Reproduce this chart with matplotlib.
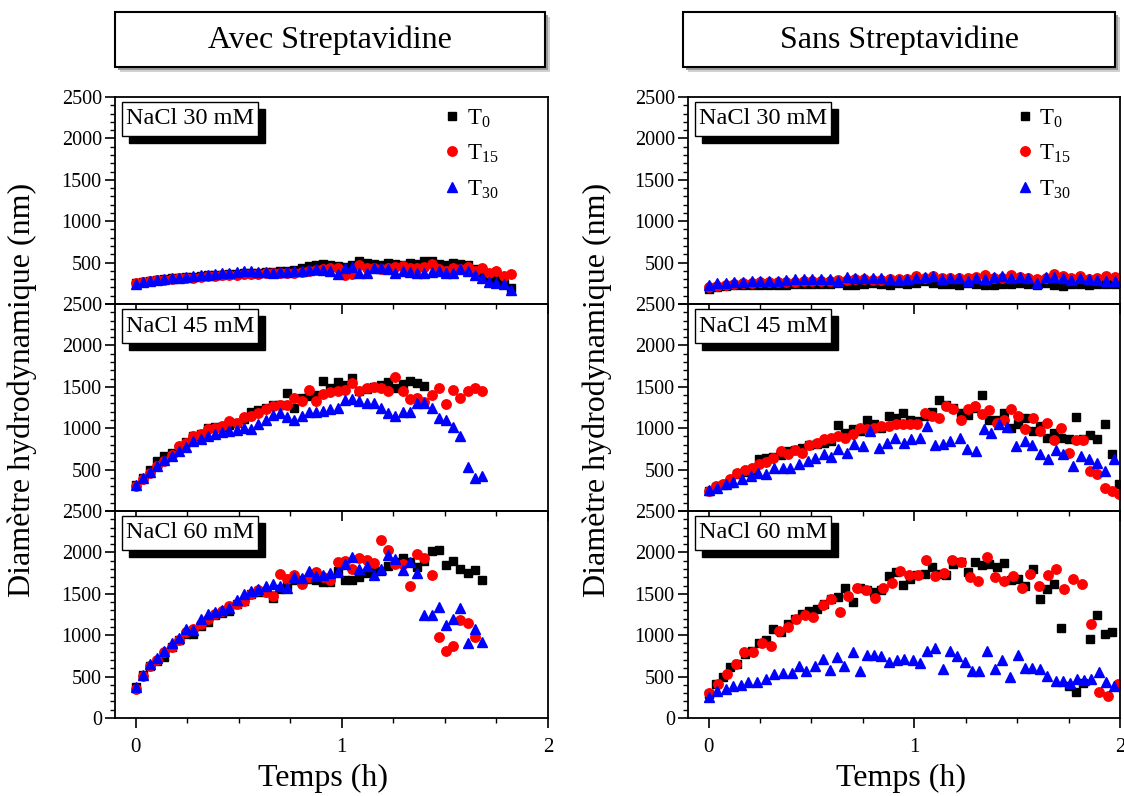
import matplotlib
matplotlib.use("Agg")
import matplotlib.pyplot as plt
from matplotlib.patches import Rectangle
from matplotlib.ticker import MultipleLocator

plt.rcParams['font.family'] = 'Liberation Serif'
plt.rcParams['mathtext.fontset'] = 'custom'
plt.rcParams['mathtext.rm'] = 'Liberation Serif'

# ---- data ----
# sampling times (h)
t_a = [0, 0.035, 0.07, 0.105, 0.14, 0.175, 0.21, 0.245, 0.28, 0.315, 0.35, 0.385, 0.42, 0.455,
       0.49, 0.525, 0.56, 0.595, 0.63, 0.665, 0.7, 0.735, 0.77, 0.805, 0.84, 0.875, 0.91, 0.945,
       0.98, 1.015, 1.05, 1.085, 1.12, 1.155, 1.19, 1.225, 1.26, 1.295, 1.33, 1.365, 1.4, 1.435,
       1.47, 1.505, 1.54, 1.575, 1.61, 1.645, 1.68, 1.715, 1.75, 1.785, 1.82, 1.855, 1.89, 1.925,
       1.96, 1.995]
t_b = [0, 0.042, 0.084, 0.126, 0.168, 0.21, 0.252, 0.294, 0.336, 0.378, 0.42, 0.462, 0.504, 0.546,
       0.588, 0.63, 0.672, 0.714, 0.756, 0.798, 0.84, 0.882, 0.924, 0.966, 1.008, 1.05, 1.092,
       1.134, 1.176, 1.218, 1.26, 1.302, 1.344, 1.386, 1.428, 1.47, 1.512, 1.554, 1.596, 1.638,
       1.68, 1.722, 1.764, 1.806, 1.848, 1.89, 1.932, 1.974]

# Avec streptavidine
avec30_t0 = [255, 270, 280, 290, 300, 310, 320, 325, 330, 340, 345, 350, 355, 360, 365, 370, 375,
             380, 385, 390, 395, 400, 410, 430, 460, 470, 480, 470, 460, 450, 470, 520, 500, 480,
             470, 490, 480, 470, 490, 480, 520, 520, 480, 470, 500, 480, 470, 420, 390, 330, 290,
             240, 190]
avec30_t15 = [250, 265, 275, 285, 295, 300, 310, 315, 320, 330, 335, 340, 345, 350, 355, 360, 365,
              365, 370, 370, 380, 375, 380, 390, 400, 410, 420, 430, 440, 350, 360, 470, 440, 430,
              420, 440, 450, 460, 440, 430, 450, 480, 420, 400, 430, 420, 450, 400, 430, 380, 400,
              340, 360]
avec30_t30 = [240, 260, 275, 290, 300, 310, 320, 330, 340, 345, 350, 360, 370, 380, 385, 395, 400,
              390, 385, 380, 385, 390, 395, 400, 410, 420, 415, 400, 360, 440, 450, 380, 370, 440,
              430, 420, 380, 400, 390, 380, 380, 390, 400, 380, 380, 420, 400, 350, 320, 260, 250,
              240, 170]

avec45_t0 = [320, 400, 490, 600, 660, 700, 760, 830, 900, 930, 1000, 1010, 1020, 1040, 1060, 1110,
             1190, 1220, 1250, 1280, 1280, 1420, 1240, 1360, 1390, 1400, 1570, 1490, 1560, 1520,
             1610, 1450, 1470, 1500, 1520, 1560, 1480, 1530, 1570, 1550, 1510]
avec45_t15 = [301, 382, 460, 540, 603, 680, 780, 820, 904, 925, 985, 1000, 1030, 1085, 1060, 1134,
              1146, 1186, 1230, 1266, 1280, 1286, 1359, 1327, 1467, 1327, 1415, 1439, 1447, 1467,
              1548, 1447, 1487, 1495, 1480, 1447, 1616, 1447, 1347, 1360, 1318, 1399, 1487, 1298,
              1459, 1367, 1455, 1487, 1455]
avec45_t30 = [314, 400, 470, 540, 620, 670, 730, 770, 840, 870, 900, 930, 960, 970, 980, 1000, 990,
              1050, 1100, 1160, 1180, 1130, 1100, 1150, 1200, 1200, 1210, 1230, 1250, 1340, 1350,
              1330, 1310, 1300, 1250, 1180, 1150, 1200, 1190, 1300, 1300, 1240, 1120, 1100, 1020,
              900, 530, 400, 420]

avec60_t0 = [371, 524, 633, 694, 742, 855, 943, 1016, 1016, 1117, 1157, 1238, 1270, 1290, 1380, 1419,
             1500, 1520, 1520, 1452, 1560, 1589, 1661, 1670, 1681, 1670, 1641, 1641, 1780, 1670,
             1670, 1700, 1750, 1780, 1780, 1840, 1880, 1935, 1880, 1820, 1900, 2016, 2024, 1843,
             1895, 1800, 1750, 1782, 1661]
avec60_t15 = [351, 512, 633, 702, 794, 863, 943, 1036, 1077, 1137, 1197, 1258, 1298, 1347, 1379,
              1419, 1500, 1548, 1520, 1468, 1734, 1681, 1722, 1621, 1702, 1762, 1702, 1661, 1883,
              1895, 1802, 1935, 1911, 1871, 2153, 2032, 1863, 1860, 1589, 1984, 1935, 1722, 984,
              814, 875, 1185, 1145, 976]
avec60_t30 = [370, 520, 650, 730, 810, 910, 970, 1080, 1060, 1200, 1260, 1280, 1300, 1330, 1420,
              1500, 1530, 1560, 1590, 1620, 1600, 1570, 1700, 1690, 1780, 1720, 1730, 1750, 1760,
              1860, 1940, 1800, 1830, 1730, 1800, 1970, 1920, 1790, 1880, 1750, 1250, 1250, 1340,
              1120, 1200, 1330, 900, 1080, 920]

# Sans streptavidine
sans30_t0 = [186, 202, 214, 226, 226, 226, 235, 235, 226, 235, 243, 243, 243, 243, 243, 255, 226,
             226, 243, 255, 243, 235, 255, 243, 255, 275, 255, 243, 243, 235, 255, 243, 235, 226,
             243, 243, 255, 243, 226, 255, 235, 214, 243, 243, 235, 243, 243, 243]
sans30_t15 = [200, 214, 235, 245, 250, 255, 260, 265, 265, 270, 270, 275, 275, 280, 280, 285, 295,
              300, 300, 295, 295, 300, 300, 305, 336, 320, 336, 310, 320, 310, 315, 330, 348, 320,
              310, 356, 330, 320, 300, 310, 364, 340, 320, 336, 300, 320, 336, 330]
sans30_t30 = [235, 255, 255, 263, 265, 275, 275, 283, 283, 295, 307, 307, 303, 303, 307, 275, 324,
              315, 315, 315, 315, 307, 295, 307, 315, 324, 336, 307, 315, 315, 283, 315, 307, 324,
              336, 315, 324, 315, 255, 324, 324, 315, 295, 315, 307, 295, 275, 275]

sans45_t0 = [241, 290, 320, 340, 442, 470, 500, 623, 640, 650, 680, 723, 740, 764, 796, 810, 824,
             844, 1033, 945, 985, 965, 1105, 1050, 1000, 1146, 1125, 1186, 1100, 1085, 1146, 1200,
             1335, 1280, 1246, 1186, 1158, 1250, 1407, 1105, 1105, 1186, 1005, 1050, 1125, 965,
             1025, 884, 945, 884, 864, 1134, 864, 916, 864, 1053, 683, 330]
sans45_t15 = [241, 301, 330, 382, 462, 490, 522, 563, 590, 643, 723, 683, 732, 704, 796, 824, 864,
              884, 905, 884, 933, 1005, 985, 997, 1025, 1025, 1045, 1045, 1045, 1050, 1186, 1146,
              1125, 1266, 1226, 1105, 1234, 1274, 1174, 1214, 1065, 1105, 1226, 1146, 985, 1125,
              965, 1065, 852, 1005, 704, 852, 852, 482, 442, 281, 241, 201]
sans45_t30_time = [0, 0.043, 0.087, 0.121, 0.164, 0.204, 0.239, 0.28, 0.32, 0.363, 0.398, 0.441,
                   0.484, 0.519, 0.562, 0.597, 0.631, 0.671, 0.709, 0.753, 0.787, 0.827, 0.865,
                   0.908, 0.948, 0.986, 1.029, 1.064, 1.099, 1.142, 1.176, 1.22, 1.254, 1.298,
                   1.341, 1.375, 1.41, 1.453, 1.496, 1.54, 1.574, 1.609, 1.652, 1.687, 1.721,
                   1.773, 1.808, 1.851, 1.886, 1.929, 1.972]
sans45_t30 = [249, 281, 322, 354, 382, 422, 462, 442, 522, 522, 522, 563, 603, 643, 683, 655, 744,
              704, 804, 784, 965, 764, 824, 884, 824, 864, 884, 1025, 796, 804, 844, 884, 744, 723,
              985, 945, 1045, 1013, 784, 844, 796, 683, 623, 732, 683, 543, 663, 623, 583, 482, 623]

sans60_t0 = [290, 411, 492, 613, 653, 774, 815, 903, 943, 1077, 1036, 1137, 1197, 1258, 1298, 1318,
             1379, 1439, 1460, 1573, 1399, 1573, 1540, 1520, 1548, 1710, 1762, 1601, 1681, 1722,
             1742, 1822, 1742, 1722, 1863, 1883, 1762, 1883, 1843, 1863, 1822, 1871, 1661, 1681,
             1589, 1802, 1439, 1560, 1621, 1089, 391, 310, 419, 956, 1238, 1016, 1036]
sans60_t15_time = [0, 0.047, 0.09, 0.133, 0.173, 0.216, 0.26, 0.303, 0.341, 0.384, 0.424, 0.467,
                   0.51, 0.554, 0.597, 0.637, 0.678, 0.723, 0.765, 0.808, 0.848, 0.891, 0.931,
                   0.972, 1.017, 1.059, 1.099, 1.145, 1.185, 1.228, 1.272, 1.311, 1.353, 1.393,
                   1.436, 1.479, 1.522, 1.562, 1.606, 1.649, 1.69, 1.73, 1.773, 1.817, 1.86, 1.9,
                   1.941, 1.99]
sans60_t15 = [298, 411, 532, 653, 794, 794, 903, 875, 1056, 1105, 1197, 1238, 1218, 1359, 1439,
              1278, 1468, 1573, 1540, 1448, 1573, 1629, 1770, 1722, 1722, 1903, 1710, 1750, 1911,
              1883, 1702, 1649, 1943, 1702, 1649, 1710, 1573, 1742, 1589, 1722, 1802, 1560, 1673,
              1613, 1137, 310, 270, 411]
sans60_t30_time = [0, 0.043, 0.083, 0.121, 0.156, 0.19, 0.234, 0.277, 0.32, 0.363, 0.407, 0.441,
                   0.476, 0.519, 0.554, 0.588, 0.623, 0.657, 0.701, 0.735, 0.77, 0.804, 0.839,
                   0.879, 0.917, 0.952, 0.995, 1.029, 1.064, 1.099, 1.138, 1.173, 1.208, 1.246,
                   1.28, 1.315, 1.353, 1.393, 1.427, 1.467, 1.502, 1.536, 1.574, 1.609, 1.644,
                   1.687, 1.721, 1.756, 1.79, 1.825, 1.86, 1.9, 1.934, 1.972]
sans60_t30 = [250, 323, 351, 391, 403, 431, 439, 472, 532, 540, 540, 633, 565, 633, 714, 581, 734,
              633, 794, 565, 766, 766, 754, 673, 702, 714, 702, 661, 806, 847, 593, 815, 754, 681,
              565, 565, 806, 593, 702, 492, 766, 605, 605, 593, 512, 452, 452, 419, 472, 460, 472,
              552, 431, 391]

columns = [
    ("Avec Streptavidine", [
        ("NaCl 30 mM", [(t_a, avec30_t0), (t_a, avec30_t15), (t_a, avec30_t30)]),
        ("NaCl 45 mM", [(t_a, avec45_t0), (t_a, avec45_t15), (t_a, avec45_t30)]),
        ("NaCl 60 mM", [(t_a, avec60_t0), (t_a, avec60_t15), (t_a, avec60_t30)]),
    ]),
    ("Sans Streptavidine", [
        ("NaCl 30 mM", [(t_b, sans30_t0), (t_b, sans30_t15), (t_b, sans30_t30)]),
        ("NaCl 45 mM", [(t_a, sans45_t0), (t_a, sans45_t15), (sans45_t30_time, sans45_t30)]),
        ("NaCl 60 mM", [(t_a, sans60_t0), (sans60_t15_time, sans60_t15), (sans60_t30_time, sans60_t30)]),
    ]),
]
series_names = [r'T$_{0}$', r'T$_{15}$', r'T$_{30}$']
styles = [dict(marker='s', ms=5.8, color='black'),
          dict(marker='o', ms=6.8, color='red'),
          dict(marker='^', ms=7.8, color='blue')]

# ---- figure ----
W, H = 1124, 796
fig = plt.figure(figsize=(W / 100, H / 100), dpi=100)

col_x = [(115, 548), (688, 1120)]
box_x = [(115, 545), (683, 1115)]
xlabel_x = [323, 901]
ylabel_x = [22, 597]
panel_y = [97, 304, 511, 718]

for c, (title, panels) in enumerate(columns):
    x0, x1 = col_x[c]
    for p, (label, series) in enumerate(panels):
        ytop, ybot = panel_y[p], panel_y[p + 1]
        ax = fig.add_axes([x0 / W, 1 - ybot / H, (x1 - x0) / W, (ybot - ytop) / H])
        ax.patch.set_visible(False)
        lines = []
        for (tt, vv), st in zip(series, styles):
            ln, = ax.plot(tt[:len(vv)], vv, ls='none', mec=st['color'], **st)
            lines.append(ln)
        ax.set_xlim(-0.1, 2.0)
        ax.set_ylim(0, 2500)
        ax.xaxis.set_major_locator(MultipleLocator(1))
        ax.xaxis.set_minor_locator(MultipleLocator(0.25))
        ax.set_yticks([0, 500, 1000, 1500, 2000, 2500])
        if p < 2:
            ax.set_yticklabels(['', '500', '1000', '1500', '2000', '2500'])
        ax.yaxis.set_minor_locator(MultipleLocator(100))
        ax.tick_params(which='major', direction='out', length=7.5, width=1.2, labelsize=14.5,
                       top=False, right=False)
        ax.tick_params(which='minor', direction='out', length=3.8, width=1.0,
                       top=False, right=False)
        ax.tick_params(axis='y', pad=2)
        ax.tick_params(axis='x', pad=7, labelsize=15)
        if p < 2:
            ax.tick_params(labelbottom=False)
        for s in ax.spines.values():
            s.set_linewidth(1.3)

        # concentration label with black drop shadow
        bw, bh = 136 / (x1 - x0), 34 / (ybot - ytop)
        bx, by = 7 / (x1 - x0), 1 - 5 / (ybot - ytop) - bh
        dx, dy = 7 / (x1 - x0), 7 / (ybot - ytop)
        ax.add_patch(Rectangle((bx + dx, by - dy), bw, bh, transform=ax.transAxes,
                               fc='black', ec='black', zorder=5, clip_on=False))
        ax.add_patch(Rectangle((bx, by), bw, bh, transform=ax.transAxes,
                               fc='white', ec='black', lw=1.0, zorder=6, clip_on=False))
        ax.text(bx + bw / 2, by + bh / 2, label, transform=ax.transAxes, ha='center',
                va='center', fontsize=17.5, zorder=7)

        if p == 0:
            ax.legend(lines, series_names, loc='upper left', bbox_to_anchor=(0.742, 0.975),
                      frameon=False, fontsize=16.5, handlelength=1.0, handletextpad=0.15,
                      labelspacing=0.56, borderpad=0.2, borderaxespad=0)

    # title box with soft grey shadow
    bx0, bx1 = box_x[c]
    for off, col in [(5, '#d0d0d0'), (3, '#9a9a9a')]:
        fig.add_artist(Rectangle(((bx0 + off) / W, 1 - (67 + off) / H), (bx1 - bx0) / W, 55 / H,
                                 transform=fig.transFigure, fc=col, ec='none'))
    fig.add_artist(Rectangle((bx0 / W, 1 - 67 / H), (bx1 - bx0) / W, 55 / H,
                             transform=fig.transFigure, fc='white', ec='black', lw=1.5))
    fig.text((bx0 + bx1) / 2 / W, 1 - 40 / H, title, ha='center', va='center', fontsize=23)

    fig.text(xlabel_x[c] / W, 1 - 778 / H, 'Temps (h)', ha='center', va='center', fontsize=23)
    fig.text(ylabel_x[c] / W, 1 - 390 / H, 'Diamètre hydrodynamique (nm)', ha='center',
             va='center', rotation=90, fontsize=23)

fig.savefig('out.png', dpi=100)
